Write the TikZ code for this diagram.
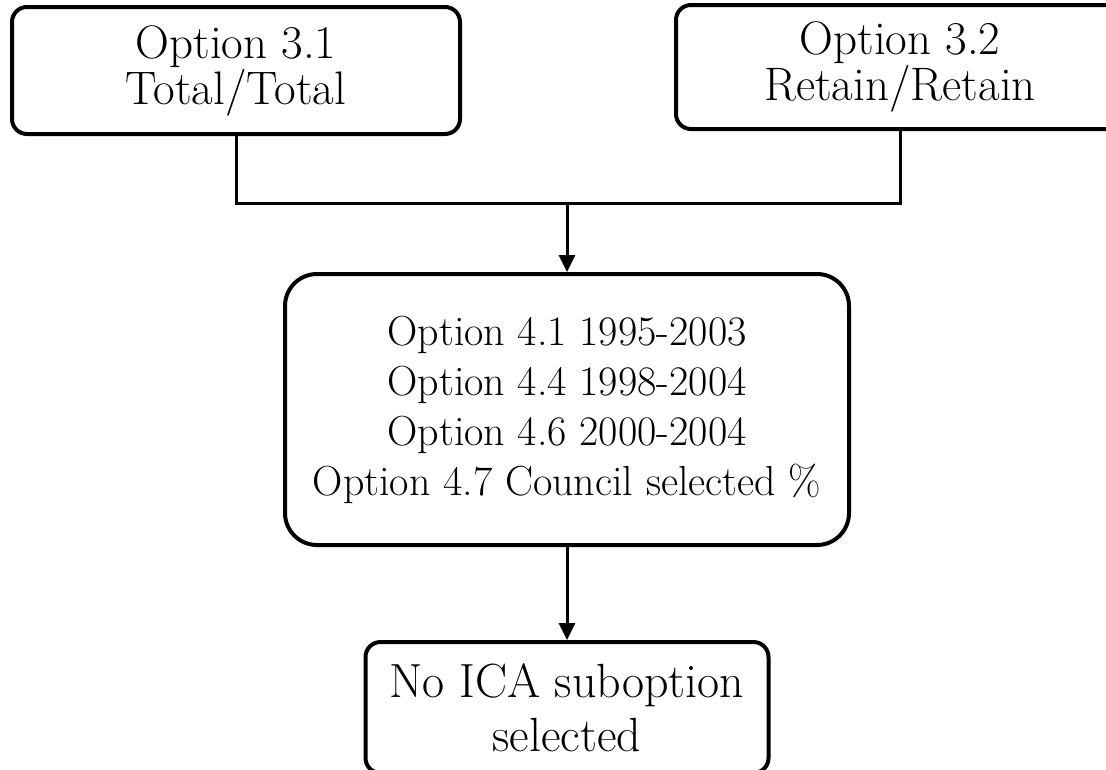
\documentclass[tikz,border=0pt]{standalone}
\usetikzlibrary{arrows.meta}
\begin{document}
\begin{tikzpicture}[x=1pt,y=-1pt,
  optbox/.style={draw=black, line width=4pt, rounded corners=15pt, align=center,
    inner sep=0pt, font=\fontsize{47}{46}\selectfont},
  bigbox/.style={optbox, rounded corners=32pt, font=\fontsize{42}{50}\selectfont},
  link/.style={draw=black, line width=3pt},
  flow/.style={link, -{Triangle[length=17pt,width=16pt]}}]
  \useasboundingbox (0,0) rectangle (1106,769);
  % the two option boxes at the top
  \node[optbox, minimum width=448pt, minimum height=127pt] (b1) at (236,70.5)
    {Option 3.1\\Total/Total};
  \node[optbox, minimum width=448pt, minimum height=124pt] (b2) at (900,67)
    {Option 3.2\\Retain/Retain};
  % the sub-option box in the middle
  \node[bigbox, minimum width=564pt, minimum height=271pt] (mid) at (567,409.5)
    {Option 4.1 1995-2003\\Option 4.4 1998-2004\\Option 4.6 2000-2004\\Option 4.7 Council selected \%};
  % final box at the bottom
  \node[optbox, font=\fontsize{48}{54}\selectfont, minimum width=403pt, minimum height=131pt] (ica) at (567,707.5)
    {No ICA suboption\\selected};
  % connectors
  \coordinate (j) at (mid.north |- 0,203);
  \draw[link] (b1.south) |- (j) -| (b2.south);
  \draw[flow] (j) -- (mid.north);
  \draw[flow] (mid.south) -- (ica.north);
\end{tikzpicture}
\end{document}
